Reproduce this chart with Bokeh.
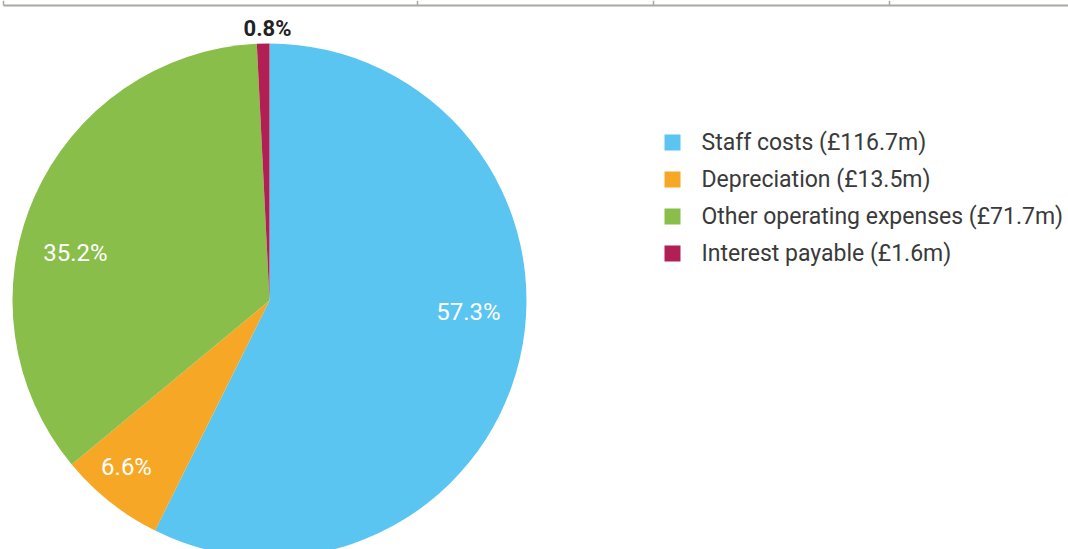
import math
from bokeh.plotting import figure
from bokeh.models import Range1d, ColumnDataSource
from bokeh.core.properties import value
from bokeh.embed import file_html
from bokeh.resources import INLINE

# Expenditure breakdown (£m)
categories = ["Staff costs", "Depreciation", "Other operating expenses", "Interest payable"]
amounts = [116.7, 13.5, 71.7, 1.6]
pct_labels = ["57.3%", "6.6%", "35.2%", "0.8%"]
colors = ["#5BC5F2", "#F6A725", "#8ABE4B", "#B21F55"]

W, H = 1068, 549
CX, CY, R = 269, H - 300, 257

p = figure(width=W, height=H, x_range=Range1d(0, W), y_range=Range1d(0, H),
           output_backend="svg", toolbar_location=None,
           x_axis_location=None, y_axis_location=None, min_border=0)
p.grid.visible = False
p.outline_line_color = None
p.background_fill_color = "white"

# wedges run clockwise from 12 o'clock
total = sum(amounts)
starts, ends = [], []
cum = 0.0
for a in amounts:
    starts.append(math.pi / 2 - 2 * math.pi * cum / total)
    cum += a
    ends.append(math.pi / 2 - 2 * math.pi * cum / total)

src = ColumnDataSource(dict(start=starts, end=ends, color=colors, cat=categories))
p.wedge(x=CX, y=CY, radius=R, start_angle="start", end_angle="end",
        direction="clock", fill_color="color", line_color=None, source=src)

# percentage labels (screen-pixel anchors)
label_pos = [(468, 311), (126, 466), (75, 252), (267, 28)]
for txt, (lx, ly), col, weight, size in zip(pct_labels, label_pos,
                                            ["white", "white", "white", "#222222"],
                                            ["normal", "normal", "normal", "bold"],
                                            ["24px", "24px", "24px", "22px"]):
    p.text(x=[lx], y=[H - ly], text=[txt], text_color=col,
           text_font=value("Roboto"), text_font_size=size,
           text_font_style=weight, text_align="center", text_baseline="middle")

# legend
leg_x, leg_y0, leg_dy = 672, 142, 37
leg_text = [f"{c} (£{a}m)" for c, a in zip(categories, amounts)]
for i, (t, col) in enumerate(zip(leg_text, colors)):
    yy = H - (leg_y0 + i * leg_dy)
    p.scatter(x=[leg_x], y=[yy], marker="square", size=16,
              fill_color=col, line_color=None)
    p.text(x=[leg_x + 29], y=[yy], text=[t], text_color="#3a3a3a",
           text_font=value("Roboto"), text_font_size="23px",
           text_font_style="normal", text_align="left", text_baseline="middle")

# table rule across the top
rule_y = H - 5
p.segment(x0=[3], y0=[rule_y], x1=[W], y1=[rule_y], line_color="#A9A8A1", line_width=2)
p.segment(x0=[3, 417, 653, 889], y0=[rule_y] * 4, x1=[3, 417, 653, 889], y1=[H] * 4,
          line_color="#A9A8A1", line_width=1.5)

open("out.html", "w").write(file_html(p, INLINE))
